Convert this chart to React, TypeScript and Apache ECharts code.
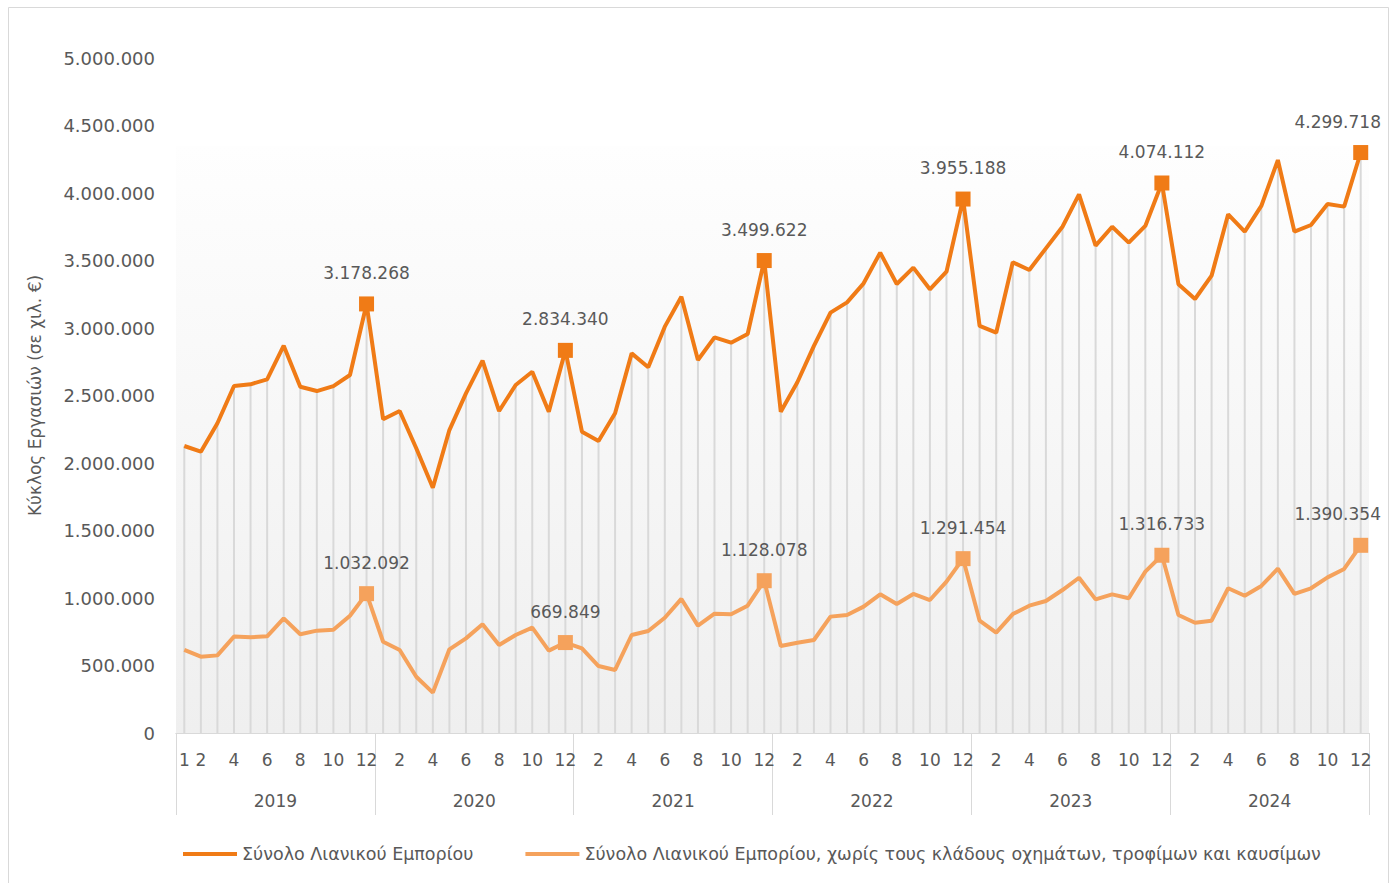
import React, { useEffect, useRef } from "react";
import * as echarts from "echarts";

const years = ["2019", "2020", "2021", "2022", "2023", "2024"];
const months = ["1", "2", "3", "4", "5", "6", "7", "8", "9", "10", "11", "12"];

const totalRetail = [
  2126000, 2084000, 2294000, 2570000, 2583000, 2620000, 2869000, 2565000, 2533000, 2570000, 2652000, 3178268,
  2324000, 2385000, 2109000, 1817000, 2244000, 2516000, 2758000, 2385000, 2578000, 2676000, 2380000, 2834340,
  2232000, 2163000, 2368000, 2812000, 2709000, 3010000, 3232000, 2763000, 2931000, 2891000, 2956000, 3499622,
  2380000, 2598000, 2867000, 3114000, 3190000, 3331000, 3558000, 3326000, 3447000, 3287000, 3417000, 3955188,
  3015000, 2965000, 3487000, 3430000, 3590000, 3750000, 3990000, 3610000, 3750000, 3632000, 3756000, 4074112,
  3324000, 3215000, 3388000, 3842000, 3714000, 3904000, 4244000, 3714000, 3763000, 3919000, 3899000, 4299718,
];

const retailExcl = [
  615000, 565000, 575000, 714000, 709000, 716000, 849000, 731000, 758000, 765000, 869000, 1032092,
  676000, 615000, 417000, 299000, 620000, 701000, 805000, 652000, 726000, 780000, 610000, 669849,
  627000, 496000, 467000, 726000, 756000, 854000, 993000, 795000, 884000, 879000, 943000, 1128078,
  644000, 669000, 689000, 862000, 874000, 936000, 1027000, 956000, 1030000, 985000, 1121000, 1291454,
  832000, 743000, 881000, 943000, 978000, 1059000, 1150000, 990000, 1027000, 998000, 1195000, 1316733,
  874000, 817000, 832000, 1072000, 1017000, 1089000, 1217000, 1030000, 1072000, 1153000, 1215000, 1390354,
];

const seriesNames = [
  "Σύνολο Λιανικού Εμπορίου",
  "Σύνολο Λιανικού Εμπορίου, χωρίς τους κλάδους οχημάτων, τροφίμων και καυσίμων",
];
const yAxisName = "Κύκλος Εργασιών (σε χιλ. €)";

const categories: string[] = [];
years.forEach((y) => months.forEach((m) => categories.push(y + "-" + m)));

const fmt = (n: number) => Math.round(n).toString().replace(/\B(?=(\d{3})+(?!\d))/g, ".");

const FONT = "DejaVu Sans";
const TEXT = "#595959";
const DARK = "#F07B16";
const LIGHT = "#F5A25C";

export default function App() {
  const ref = useRef<HTMLDivElement>(null);
  useEffect(() => {
    if (!ref.current) return;
    const chart = echarts.init(ref.current, undefined, { renderer: "svg" });

    const mkData = (arr: number[], color: string) =>
      arr.map((v, i) => {
        const isDec = i % 12 === 11;
        const isLast = i === arr.length - 1;
        return {
          value: v,
          symbol: isDec ? "rect" : "none",
          symbolSize: isDec ? 15 : 0,
          label: {
            show: isDec,
            position: "top",
            distance: 15,
            offset: isLast ? [-23, 0] : [0, 0],
            formatter: () => fmt(v),
            color: TEXT,
            fontFamily: FONT,
            fontSize: 17,
          },
          itemStyle: { color },
        };
      });

    chart.setOption({
      animation: false,
      backgroundColor: "#ffffff",
      textStyle: { fontFamily: FONT },
      grid: { left: 176, right: 22, top: 58, bottom: 150, containLabel: false },
      legend: {
        data: seriesNames,
        left: 183,
        top: 845,
        padding: 0,
        icon: "rect",
        itemWidth: 54,
        itemHeight: 4,
        itemGap: 52,
        textStyle: { color: TEXT, fontFamily: FONT, fontSize: 17.5 },
      },
      xAxis: [
        {
          type: "category",
          data: categories,
          boundaryGap: true,
          position: "bottom",
          axisLine: { show: true, lineStyle: { color: "#d9d9d9", width: 1 } },
          axisTick: { show: false },
          axisLabel: {
            interval: (index: number) => index === 0 || (index % 12) % 2 === 1,
            formatter: (v: string) => v.split("-")[1],
            color: TEXT,
            fontFamily: FONT,
            fontSize: 17,
            margin: 18,
          },
          splitLine: { show: false },
        },
        {
          type: "category",
          data: years,
          boundaryGap: true,
          position: "bottom",
          axisLine: { show: true, lineStyle: { color: "#d9d9d9", width: 1 } },
          axisTick: { show: true, interval: 0, length: 82, lineStyle: { color: "#d9d9d9", width: 1 } },
          axisLabel: { interval: 0, color: TEXT, fontFamily: FONT, fontSize: 17, margin: 59 },
          splitLine: { show: false },
        },
      ],
      yAxis: {
        type: "value",
        min: 0,
        max: 5000000,
        interval: 500000,
        name: yAxisName,
        nameLocation: "middle",
        nameGap: 133,
        nameTextStyle: { color: TEXT, fontFamily: FONT, fontSize: 17 },
        axisLine: { show: false },
        axisTick: { show: false },
        splitLine: { show: false },
        axisLabel: { formatter: (v: number) => fmt(v), color: TEXT, fontFamily: FONT, fontSize: 18, margin: 21 },
      },
      graphic: [
        {
          type: "rect",
          shape: { x: 8.5, y: 7.5, width: 1380, height: 880 },
          style: { fill: "none", stroke: "#d9d9d9", lineWidth: 1 },
          silent: true,
          z: -10,
        },
      ],
      series: [
        {
          type: "bar",
          name: "drop",
          data: totalRetail,
          barWidth: 2,
          itemStyle: { color: "#d9d9d9" },
          silent: true,
          z: 1,
          markArea: {
            silent: true,
            itemStyle: {
              color: new echarts.graphic.LinearGradient(0, 0, 0, 1, [
                { offset: 0, color: "#fefefe" },
                { offset: 1, color: "#efefef" },
              ]),
            },
            data: [[{ yAxis: 0 }, { yAxis: 4350000 }]],
          },
        },
        {
          type: "line",
          name: seriesNames[0],
          data: mkData(totalRetail, DARK),
          lineStyle: { color: DARK, width: 4 },
          itemStyle: { color: DARK },
          z: 3,
        },
        {
          type: "line",
          name: seriesNames[1],
          data: mkData(retailExcl, LIGHT),
          lineStyle: { color: LIGHT, width: 4 },
          itemStyle: { color: LIGHT },
          z: 3,
        },
      ],
    });
    return () => chart.dispose();
  }, []);
  return (
    <div
      ref={ref}
      style={{ position: "fixed", left: 0, top: 0, width: 1391, height: 883, background: "#fff" }}
    />
  );
}
